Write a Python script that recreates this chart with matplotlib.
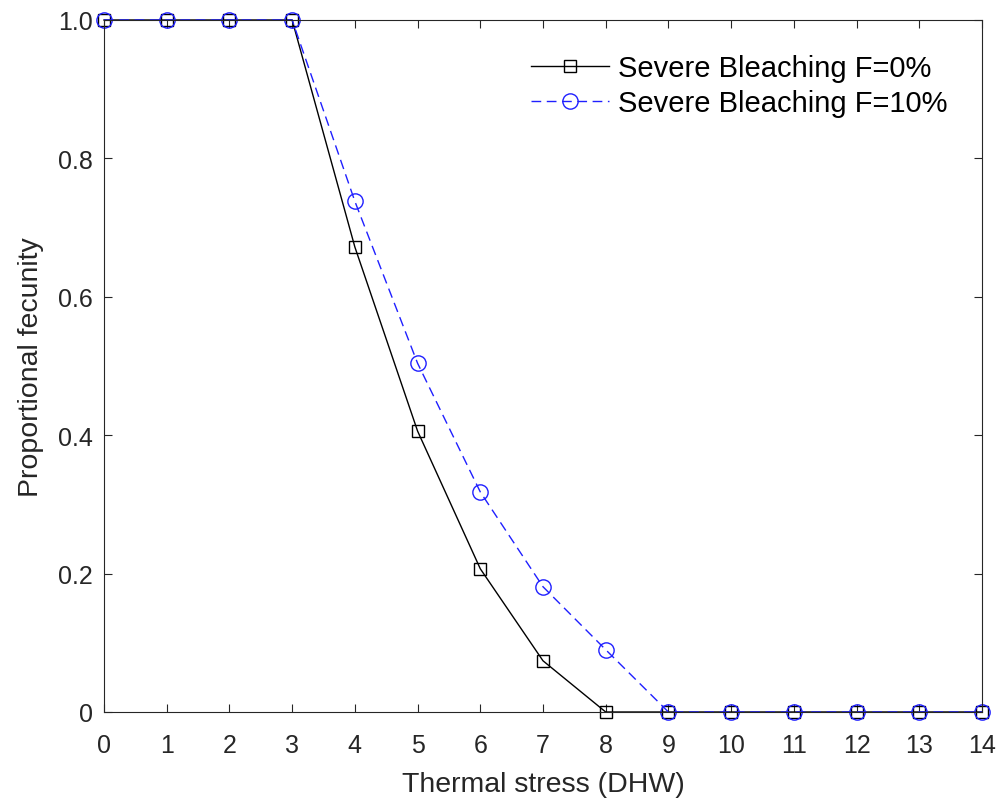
import numpy as np
import matplotlib
matplotlib.use("Agg")
import matplotlib.pyplot as plt

matplotlib.rc("font", **{"family": "sans-serif", "sans-serif": ["Liberation Sans"], "size": 18})

dhw = list(range(0, 15))
fec_f0 = [1, 1, 1, 1, 0.672, 0.406, 0.207, 0.074, 0, 0, 0, 0, 0, 0, 0]
fec_f10 = [1, 1, 1, 1, 0.738, 0.504, 0.318, 0.181, 0.090, 0, 0, 0, 0, 0, 0]

fig = plt.figure(figsize=(10.02, 8.03), dpi=100)
ax = fig.add_axes([104 / 1002, 1 - 713 / 803, 878 / 1002, 692 / 803])

ax.plot(dhw, fec_f0, color="black", linewidth=1.0, marker="s", markersize=9,
        markerfacecolor="none", markeredgewidth=1.0, clip_on=False,
        label="Severe Bleaching F=0%")
ax.plot(dhw, fec_f10, color="#1f1fff", linewidth=1.0, linestyle=(0, (7, 4)),
        marker="o", markersize=11, markerfacecolor="none", markeredgewidth=1.0,
        clip_on=False, label="Severe Bleaching F=10%")

ax.set_xlim(0, 14)
ax.set_ylim(0, 1)
ax.set_xticks(range(0, 15))
ax.set_yticks([0, 0.2, 0.4, 0.6, 0.8, 1.0])
ax.set_yticklabels(["0", "0.2", "0.4", "0.6", "0.8", "1.0"])
ax.tick_params(direction="in", length=6, width=0.8, colors="#262626",
               labelsize=18, top=True, right=True)
ax.tick_params(axis="y", pad=8)
ax.tick_params(axis="x", pad=15)
for sp in ax.spines.values():
    sp.set_color("#262626")
    sp.set_linewidth(0.8)

ax.set_xlabel("Thermal stress (DHW)", fontsize=20.5, color="#262626", labelpad=10)
ax.set_ylabel("Proportional fecunity", fontsize=20.5, color="#262626", labelpad=10)

ax.legend(loc="upper right", frameon=False, fontsize=21, handlelength=2.7,
          handletextpad=0.3, labelspacing=0.25, borderaxespad=0.6,
          bbox_to_anchor=(0.994, 0.993))

plt.savefig("out.png", dpi=100)
plt.close()
